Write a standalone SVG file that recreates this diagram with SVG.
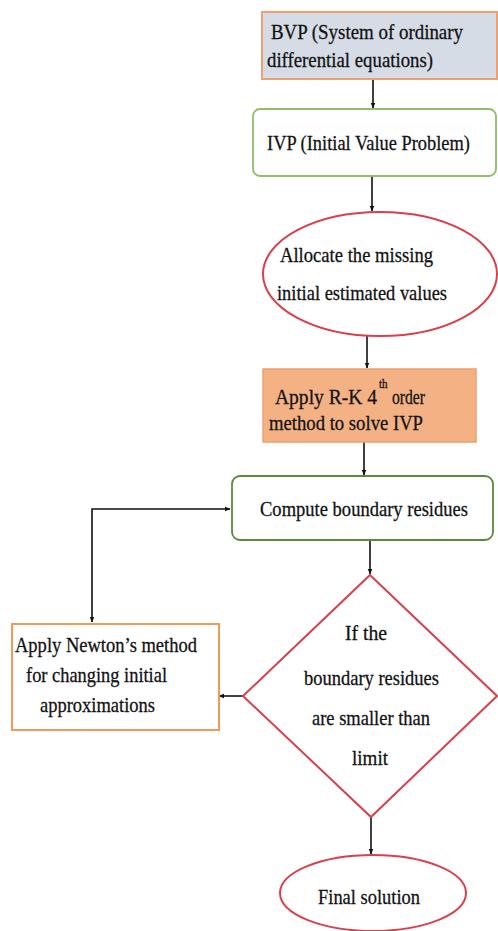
<svg xmlns="http://www.w3.org/2000/svg" width="498" height="931" viewBox="0 0 498 931">
<style>
text{font-family:"Liberation Serif","Times New Roman",serif;font-size:19px;fill:#111;stroke:#111;stroke-width:0.25}
.c{stroke:#111;stroke-width:1.6;fill:none}
.red{fill:#fff;stroke:#d8404c;stroke-width:2}
</style>
<defs>
<marker id="ah" viewBox="0 0 10 10" refX="9" refY="5" markerWidth="6" markerHeight="6" orient="auto-start-reverse" markerUnits="userSpaceOnUse">
<path d="M0,1 L10,5 L0,9 z" fill="#111"/>
</marker>
</defs>
<rect width="498" height="931" fill="#fff"/>
<g id="connectors">
<line class="c" x1="373" y1="79" x2="373" y2="108" marker-end="url(#ah)"/>
<line class="c" x1="372" y1="176" x2="372" y2="211" marker-end="url(#ah)"/>
<line class="c" x1="367" y1="336" x2="367" y2="368" marker-end="url(#ah)"/>
<line class="c" x1="364" y1="442" x2="364" y2="475" marker-end="url(#ah)"/>
<line class="c" x1="370" y1="540" x2="370" y2="574" marker-end="url(#ah)"/>
<line class="c" x1="243" y1="696" x2="219" y2="696" marker-end="url(#ah)"/>
<polyline class="c" points="92,622 92,509 230,509" marker-start="url(#ah)" marker-end="url(#ah)"/>
<line class="c" x1="371" y1="817" x2="371" y2="854" marker-end="url(#ah)"/>
</g>
<g id="bvp">
<rect x="262" y="12" width="235" height="67" fill="#d6dce5" stroke="#f0a070" stroke-width="2"/>
<text transform="translate(271,39) scale(1,1.15)" textLength="192" lengthAdjust="spacingAndGlyphs">BVP (System of ordinary</text>
<text transform="translate(267,67) scale(1,1.15)" textLength="166" lengthAdjust="spacingAndGlyphs">differential equations)</text>
</g>
<g id="ivp">
<rect x="253" y="109" width="243" height="67" rx="7" fill="#fff" stroke="#8fbf6a" stroke-width="1.8"/>
<text transform="translate(267,150) scale(1,1.15)" textLength="203" lengthAdjust="spacingAndGlyphs">IVP (Initial Value Problem)</text>
</g>
<g id="allocate">
<ellipse class="red" cx="380" cy="274" rx="117" ry="62"/>
<text transform="translate(280,262) scale(1,1.15)" textLength="153" lengthAdjust="spacingAndGlyphs">Allocate the missing</text>
<text transform="translate(277,300) scale(1,1.15)" textLength="170" lengthAdjust="spacingAndGlyphs">initial estimated values</text>
</g>
<g id="rk">
<rect x="263" y="369" width="213" height="73" fill="#f4b183" stroke="#eda170" stroke-width="1.5"/>
<text transform="translate(275,404) scale(1,1.15)"><tspan x="0" y="0" textLength="102" lengthAdjust="spacingAndGlyphs">Apply R-K 4</tspan><tspan x="104" y="-14" style="font-size:11px">th</tspan><tspan x="117" y="0" textLength="33" lengthAdjust="spacingAndGlyphs">order</tspan></text>
<text transform="translate(269,430) scale(1,1.15)" textLength="154" lengthAdjust="spacingAndGlyphs">method to solve IVP</text>
</g>
<g id="compute">
<rect x="232" y="476" width="261" height="64" rx="8" fill="#fff" stroke="#5a8a3a" stroke-width="1.8"/>
<text transform="translate(260,516) scale(1,1.15)" textLength="208" lengthAdjust="spacingAndGlyphs">Compute boundary residues</text>
</g>
<g id="decision">
<polygon class="red" points="370,575 497,696 371,817 243,696"/>
<text transform="translate(345,640) scale(1,1.15)" textLength="42" lengthAdjust="spacingAndGlyphs">If the</text>
<text transform="translate(304,685) scale(1,1.15)" textLength="135" lengthAdjust="spacingAndGlyphs">boundary residues</text>
<text transform="translate(312,725) scale(1,1.15)" textLength="118" lengthAdjust="spacingAndGlyphs">are smaller than</text>
<text transform="translate(352,765) scale(1,1.15)" textLength="36" lengthAdjust="spacingAndGlyphs">limit</text>
</g>
<g id="newton">
<rect x="12" y="624" width="207" height="106" fill="#fff" stroke="#ed9a5a" stroke-width="2"/>
<text transform="translate(15,652) scale(1,1.15)" textLength="182" lengthAdjust="spacingAndGlyphs">Apply Newton’s method</text>
<text transform="translate(26,682) scale(1,1.15)" textLength="141" lengthAdjust="spacingAndGlyphs">for changing initial</text>
<text transform="translate(40,712) scale(1,1.15)" textLength="115" lengthAdjust="spacingAndGlyphs">approximations</text>
</g>
<g id="final">
<ellipse class="red" cx="373" cy="893" rx="93" ry="38"/>
<text transform="translate(318,904) scale(1,1.15)" textLength="102" lengthAdjust="spacingAndGlyphs">Final solution</text>
</g>
</svg>
